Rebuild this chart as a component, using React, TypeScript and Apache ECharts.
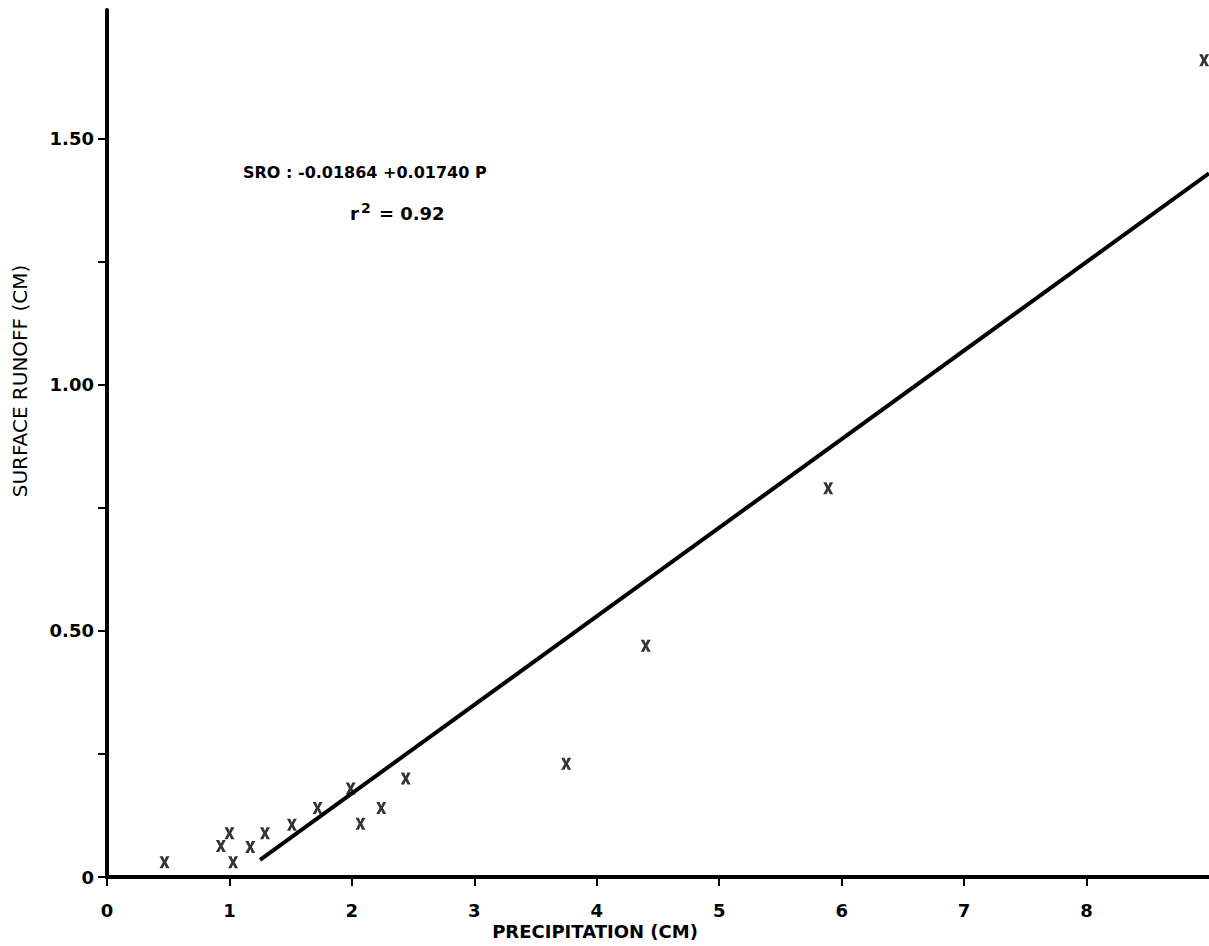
import React, { useEffect, useRef } from "react";
import * as echarts from "echarts";

// Observed data points (precipitation cm, surface runoff cm)
const precipitation = [0.47, 0.93, 1.0, 1.03, 1.17, 1.29, 1.51, 1.72, 1.99, 2.07, 2.24, 2.44, 3.75, 4.4, 5.89, 8.96];
const runoff = [0.03, 0.063, 0.089, 0.03, 0.061, 0.089, 0.106, 0.14, 0.18, 0.108, 0.14, 0.2, 0.23, 0.47, 0.79, 1.66];

// Fitted regression line endpoints as drawn
const fitX = [1.25, 9.0];
const fitY = [0.035, 1.43];

const xTicks = [0, 1, 2, 3, 4, 5, 6, 7, 8];
const yTicks = [0, 0.25, 0.5, 0.75, 1.0, 1.25, 1.5];
const yLabels = [0, 0.5, 1.0, 1.5];

const xTitle = "PRECIPITATION (CM)";
const yTitle = "SURFACE RUNOFF (CM)";
const equation = "SRO : -0.01864 +0.01740 P";
const rSquared = "0.92";

const FONT = "DejaVu Sans";

export default function App() {
  const ref = useRef<HTMLDivElement>(null);
  useEffect(() => {
    if (!ref.current) return;
    const chart = echarts.init(ref.current, undefined, { renderer: "svg" });
    const xSymbol =
      "path://M0,0 L3.4,0 L5,3.8 L6.6,0 L10,0 L6.7,6 L10,12 L6.6,12 L5,8.2 L3.4,12 L0,12 L3.3,6 Z";
    chart.setOption({
      animation: false,
      backgroundColor: "#ffffff",
      grid: { left: 107, right: 0, top: 10, bottom: 69 },
      xAxis: {
        type: "value",
        min: 0,
        max: 9,
        interval: 1,
        splitLine: { show: false },
        axisLine: { show: true, onZero: false, lineStyle: { color: "#000", width: 4 } },
        axisTick: { show: true, customValues: xTicks, length: 9, lineStyle: { color: "#000", width: 2 } },
        axisLabel: {
          customValues: xTicks,
          margin: 24,
          color: "#000",
          fontFamily: FONT,
          fontWeight: "bold",
          fontSize: 18,
          formatter: (v: number) => String(v),
        },
      },
      yAxis: {
        type: "value",
        min: 0,
        max: 1.762,
        splitLine: { show: false },
        axisLine: { show: true, onZero: false, lineStyle: { color: "#000", width: 4 } },
        axisTick: { show: true, customValues: yTicks, length: 9, lineStyle: { color: "#000", width: 2 } },
        axisLabel: {
          customValues: yLabels,
          margin: 13,
          color: "#000",
          fontFamily: FONT,
          fontWeight: "bold",
          fontSize: 18,
          formatter: (v: number) => (v === 0 ? "0" : v.toFixed(2)),
        },
      },
      graphic: [
        {
          type: "text",
          x: 20,
          y: 381,
          rotation: Math.PI / 2,
          style: {
            text: yTitle,
            fill: "#000",
            font: `20px "${FONT}"`,
            align: "center",
            verticalAlign: "middle",
          },
        },
        {
          type: "text",
          x: 595,
          y: 931,
          style: {
            text: xTitle,
            fill: "#000",
            font: `bold 18px "${FONT}"`,
            align: "center",
            verticalAlign: "middle",
          },
        },
        {
          type: "text",
          x: 243,
          y: 172,
          style: {
            text: equation,
            fill: "#000",
            font: `bold 16px "${FONT}"`,
            align: "left",
            verticalAlign: "middle",
          },
        },
        {
          type: "text",
          x: 350,
          y: 213,
          style: {
            text: "r{sup|2} = " + rSquared,
            fill: "#000",
            font: `bold 18px "${FONT}"`,
            align: "left",
            verticalAlign: "middle",
            rich: {
              sup: {
                fontFamily: FONT,
                fontWeight: "bold",
                fontSize: 14,
                verticalAlign: "top",
                padding: [0, 2, 10, 2],
              },
            },
          },
        },
      ],
      series: [
        {
          type: "line",
          data: fitX.map((x, i) => [x, fitY[i]]),
          symbol: "none",
          lineStyle: { color: "#000", width: 4 },
          z: 3,
        },
        {
          type: "scatter",
          data: precipitation.map((x, i) => [x, runoff[i]]),
          symbol: xSymbol,
          symbolSize: [10, 12],
          itemStyle: { color: "#000" },
          z: 4,
        },
      ],
    });
    return () => chart.dispose();
  }, []);
  return (
    <div
      ref={ref}
      style={{ position: "fixed", left: 0, top: 0, width: 1209, height: 946, background: "#fff" }}
    />
  );
}
